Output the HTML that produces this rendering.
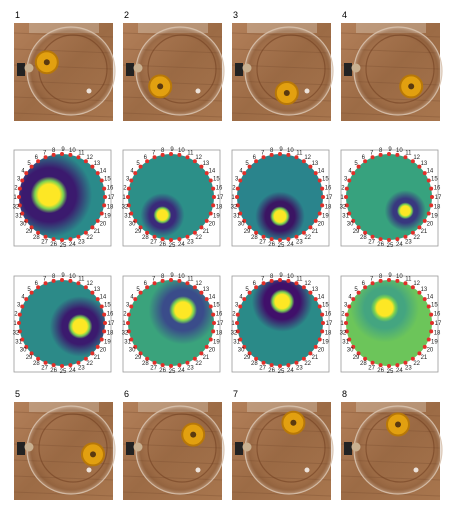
<!DOCTYPE html>
<html><head><meta charset="utf-8"><style>
html,body{margin:0;padding:0;background:#fff;width:449px;height:506px;overflow:hidden}
svg{display:block}
text{font-family:"Liberation Sans",sans-serif}
</style></head><body>
<svg id="fig" width="449" height="506" viewBox="0 0 449 506">
<defs>
<linearGradient id="wood" x1="0" y1="0" x2="1" y2="1">
<stop offset="0" stop-color="#b3805a"/><stop offset="0.5" stop-color="#9c6b45"/><stop offset="1" stop-color="#a8764e"/>
</linearGradient>
<radialGradient id="glass" cx="0.5" cy="0.5" r="0.5">
<stop offset="0.75" stop-color="#8a5a3a" stop-opacity="0.08"/><stop offset="0.9" stop-color="#6b3f22" stop-opacity="0.25"/><stop offset="1" stop-color="#e0cbb8" stop-opacity="0.45"/>
</radialGradient>
</defs>
<g id="photos"></g>
<g id="maps"></g>
</svg>
<script>
// photo panels: cup positions relative to dish (fractions of dish radius)
const photoLabels = ["1","2","3","4","5","6","7","8"];
const cupX = [-0.55,-0.45,-0.05,0.3,0.5,0.3,0.1,0.0];
const cupY = [-0.2,0.35,0.5,0.35,0.1,-0.35,-0.62,-0.58];
// heatmap panels: yellow blob centre (fractions of radius), blob size, background level
const blobX = [-0.3,-0.2,0.0,0.38,0.42,0.28,0.05,-0.1];
const blobY = [-0.05,0.42,0.45,0.32,0.08,-0.3,-0.5,-0.35];
const blobR = [0.33,0.16,0.18,0.15,0.22,0.25,0.22,0.25];
const bgColor = ["#2a8a8a","#2c8f88","#2a848c","#37a27e","#2c8a88","#3aa37c","#2a8a88","#6cc55a"];
const darkColor = ["#3b1a6e","#3a2a7a","#3b1563","#38387f","#3b1a6e","#3a4c8a","#40106a","#44a580"];

const colX = [14,123,232,341];
const NS = "http://www.w3.org/2000/svg";
function mk(tag, attrs, parent){const e=document.createElementNS(NS,tag);for(const k in attrs)e.setAttribute(k,attrs[k]);parent.appendChild(e);return e;}
const photos = document.getElementById('photos');
const maps = document.getElementById('maps');
const defs = document.querySelector('defs');

function photo(i, x, y){
  const g = mk('g',{},photos);
  
  
  const lab = mk('text',{x:x+1,y:y-5,'font-size':9,fill:'#000'},g);
  lab.textContent = photoLabels[i];
  
  
  mk('rect',{x:x,y:y,width:99,height:98,fill:'url(#wood)'},g);
  for(let k=0;k<6;k++) mk('line',{x1:x,x2:x+99,y1:y+10+k*16,y2:y+14+k*16,stroke:'#7a4e30','stroke-width':1,opacity:0.35},g);
  mk('rect',{x:x+15,y:y,width:70,height:10,fill:'#cdb8a2',opacity:0.5},g);
  const cx=x+57, cy=y+48, r=44;
  mk('circle',{cx:cx,cy:cy,r:r,fill:'url(#glass)',stroke:'#d8c2ae','stroke-width':1.2,opacity:0.9},g);
  mk('circle',{cx:cx+2,cy:cy-2,r:r-10,fill:'none',stroke:'#6b3a1c','stroke-width':1.2,opacity:0.5},g);
  mk('circle',{cx:cx+18,cy:cy+20,r:2.5,fill:'#fff',opacity:0.8},g);
  mk('rect',{x:x+3,y:y+40,width:8,height:13,fill:'#222'},g);
  mk('circle',{cx:x+15,cy:y+45,r:4.5,fill:'#c8b090'},g);
  const cup = mk('circle',{cx:cx+cupX[i]*r,cy:cy+cupY[i]*r,r:11,fill:'#e2a010',stroke:'#b87808','stroke-width':2},g);
  
  
  mk('circle',{cx:cx+cupX[i]*r,cy:cy+cupY[i]*r,r:3,fill:'#5a3a10'},g);
}

function heatmap(i, x, y){
  const g = mk('g',{},maps);
  
  
  mk('rect',{x:x,y:y,width:97,height:96,fill:'#fff',stroke:'#999','stroke-width':0.8},g);
  const cx=x+48, cy=y+47, r=43;
  const gid='hg'+i;
  const bx=cx+blobX[i]*r, by=cy+blobY[i]*r;
  const rg = mk('radialGradient',{id:gid,gradientUnits:'userSpaceOnUse',cx:bx,cy:by,r:r},defs);
  const br=blobR[i];
  [[0,'#fde725'],[br*0.75,'#fde725'],[br*1.0,'#7ad151'],[br*1.3,darkColor[i]],[br*1.9,darkColor[i]],[br*3.2,bgColor[i]],[1,bgColor[i]]]
   .forEach(s=>mk('stop',{offset:Math.min(1,s[0]),'stop-color':s[1]},rg));
  const c = mk('circle',{cx:cx,cy:cy,r:r,fill:'url(#'+gid+')'},g);
  
  
  for(let k=0;k<32;k++){
    const num=((k+8)%32)+1;
    const a=-Math.PI/2+k*2*Math.PI/32;
    const ex=cx+r*Math.cos(a), ey=cy+r*Math.sin(a);
    const d=mk('circle',{cx:ex,cy:ey,r:2,fill:'#e0302a'},g);
    
    
    const t=mk('text',{x:ex+5*Math.cos(a)+1,y:ey+5*Math.sin(a)+2,'font-size':6,'text-anchor':'middle',fill:'#222'},g);
    t.textContent=num;
  }
}

const photoRowY=[23,402];
for(let c=0;c<4;c++){photo(c,colX[c],photoRowY[0]);photo(c+4,colX[c],photoRowY[1]);}
for(let c=0;c<4;c++){heatmap(c,colX[c],150);heatmap(c+4,colX[c],276);}
</script>
</body></html>
